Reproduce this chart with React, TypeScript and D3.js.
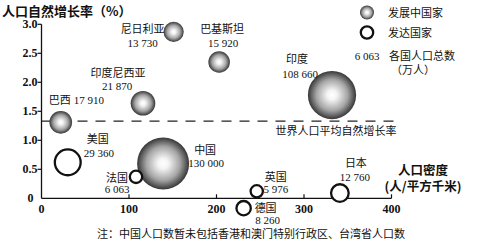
import React from "react";
import * as d3 from "d3";

const names = ["巴西", "印度尼西亚", "尼日利亚", "巴基斯坦", "印度", "中国", "美国", "法国", "英国", "德国", "日本"];
const density = [22, 116, 151, 203, 332, 139, 30, 108, 246, 231, 341];
const growth = [1.31, 1.64, 2.87, 2.35, 1.78, 0.6, 0.62, 0.37, 0.12, -0.17, 0.09];
const population = [17910, 21870, 13730, 15920, 108660, 130000, 29360, 6063, 5976, 8260, 12760];
const developed = [false, false, false, false, false, false, true, true, true, true, true];
const yTicks = [0, 0.5, 1.0, 1.5, 2.0, 2.5, 3.0];
const xTicks = [0, 100, 200, 300, 400];
const worldAvg = 1.33;
const legendSample = 6063;

// label layout: [name dx, name dy, num dx, num dy, anchor]
const labelLayout: Record<string, [number, number, number, number, string]> = {
  巴西: [-12, -18, 13, -18, "start"],
  印度尼西亚: [-25, -26, -26, -13, "middle"],
  尼日利亚: [-31, 1, -31, 15, "middle"],
  巴基斯坦: [3, -29, 4, -15, "middle"],
  印度: [-35, -32, -32, -17, "middle"],
  中国: [42, -10, 43, 3, "middle"],
  美国: [30, -19, 31, -5, "middle"],
  法国: [-19, 5, -19, 16, "middle"],
  英国: [19, -10, 19, 2, "middle"],
  德国: [22, 4, 24, 16, "middle"],
  日本: [16, -26, 15, -12, "middle"],
};

const fmt = (n: number) => {
  const s = String(n);
  if (s.length <= 3) return s;
  return s.slice(0, s.length - 3) + " " + s.slice(s.length - 3);
};

const CJK = "'Noto Sans CJK SC', sans-serif";
const SERIF = "'Liberation Serif', 'DejaVu Serif', serif";

export default function App() {
  const x = d3.scaleLinear().domain([0, 400]).range([41.5, 391.5]);
  const y = d3.scaleLinear().domain([0, 3]).range([198.3, 24.3]);
  const r = d3.scalePow().exponent(0.42).domain([0, 130000]).range([0, 26]);

  return (
    <svg width={491} height={244} style={{ position: "absolute", left: 0, top: 0, background: "#fff" }}>
      <defs>
        <radialGradient id="sphere" cx="50%" cy="50%" r="50%">
          <stop offset="0%" stopColor="#ffffff" />
          <stop offset="20%" stopColor="#f4f4f4" />
          <stop offset="65%" stopColor="#a4a4a4" />
          <stop offset="100%" stopColor="#363636" />
        </radialGradient>
      </defs>
      {/* title */}
      <text x={2} y={15.5} fontFamily={CJK} fontSize={13} fontWeight="bold" fill="#111">
        人口自然增长率（%）
      </text>
      {/* y axis */}
      <line x1={x(0)} x2={x(0)} y1={y(0)} y2={y(3)} stroke="#111" strokeWidth={1.3} />
      {yTicks.map((t) => (
        <g key={"y" + t}>
          {t > 0 && <line x1={x(0) - 4} x2={x(0)} y1={y(t)} y2={y(t)} stroke="#111" strokeWidth={1.2} />}
          <text
            x={t === 0 ? x(0) - 8 : x(0) - 4}
            y={y(t) + 4}
            textAnchor="end"
            fontFamily={SERIF}
            fontWeight="bold"
            fontSize={12}
            fill="#111"
          >
            {t === 0 ? "0" : t.toFixed(1)}
          </text>
        </g>
      ))}
      {/* x axis */}
      <line x1={x(0)} x2={x(400)} y1={y(0)} y2={y(0)} stroke="#111" strokeWidth={1.3} />
      {xTicks.map((t) => (
        <g key={"x" + t}>
          {t > 0 && <line x1={x(t)} x2={x(t)} y1={y(0) - 4} y2={y(0)} stroke="#111" strokeWidth={1.2} />}
          <text x={x(t)} y={y(0) + 15} textAnchor="middle" fontFamily={SERIF} fontWeight="bold" fontSize={12} fill="#111">
            {t}
          </text>
        </g>
      ))}
      <text x={423} y={174.5} textAnchor="middle" fontFamily={CJK} fontSize={12.5} fontWeight="bold" fill="#111">
        人口密度
      </text>
      <text x={423} y={190.5} textAnchor="middle" fontFamily={CJK} fontSize={12.5} fontWeight="bold" fill="#111">
        (人/平方千米)
      </text>
      {/* world average */}
      <line x1={x(0)} x2={x(400) + 3} y1={y(worldAvg)} y2={y(worldAvg)} stroke="#222" strokeWidth={1.3} strokeDasharray="10,8" />
      <text x={336} y={135} textAnchor="middle" fontFamily={CJK} fontSize={11} fill="#111">
        世界人口平均自然增长率
      </text>
      {/* bubbles */}
      {names.map((n, i) => {
        const cx = x(density[i]);
        const cy = y(growth[i]);
        const rad = r(population[i]);
        const L = labelLayout[n];
        return (
          <g key={n}>
            {developed[i] ? (
              <circle cx={cx} cy={cy} r={rad - 1} fill="#fff" stroke="#111" strokeWidth={2.3} />
            ) : (
              <circle cx={cx} cy={cy} r={rad} fill="url(#sphere)" />
            )}
            <text x={cx + L[0]} y={cy + L[1]} textAnchor={L[4]} fontFamily={CJK} fontSize={11} fill="#111">
              {n}
            </text>
            <text x={cx + L[2]} y={cy + L[3]} textAnchor={L[4]} fontFamily={SERIF} fontSize={11} fill="#111">
              {fmt(population[i])}
            </text>
          </g>
        );
      })}
      {/* legend */}
      <circle cx={367} cy={12.5} r={7} fill="url(#sphere)" />
      <text x={388} y={17} fontFamily={CJK} fontSize={11} fill="#111">发展中国家</text>
      <circle cx={367} cy={32.5} r={6.2} fill="#fff" stroke="#111" strokeWidth={2.3} />
      <text x={388} y={37} fontFamily={CJK} fontSize={11} fill="#111">发达国家</text>
      <text x={367} y={60} textAnchor="middle" fontFamily={SERIF} fontSize={11} fill="#111">{fmt(legendSample)}</text>
      <text x={389} y={60} fontFamily={CJK} fontSize={11} fill="#111">各国人口总数</text>
      <text x={391} y={74} fontFamily={CJK} fontSize={11} fill="#111">（万人）</text>
      {/* note */}
      <text x={251} y={238} textAnchor="middle" fontFamily={CJK} fontSize={11} fill="#111">
        注：中国人口数暂未包括香港和澳门特别行政区、台湾省人口数
      </text>
    </svg>
  );
}
